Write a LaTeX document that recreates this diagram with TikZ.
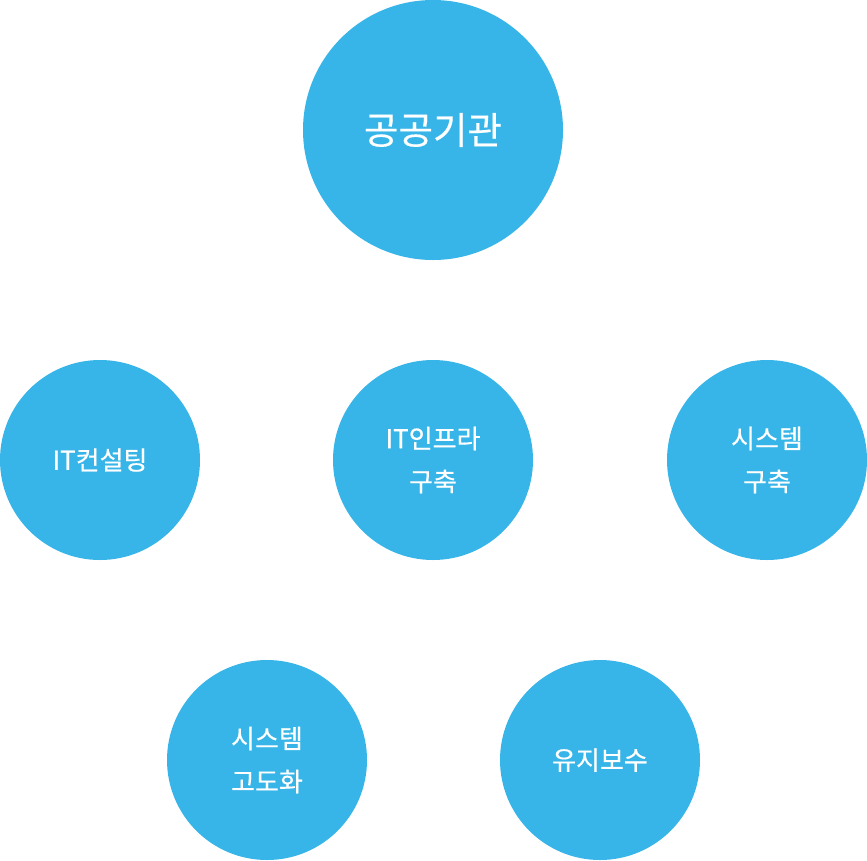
\documentclass[tikz,border=0pt]{standalone}
\usepackage{fontspec}
\setmainfont[FakeBold=0.4]{Noto Sans CJK KR}
\definecolor{sky}{HTML}{38B5E8}
\begin{document}
\begin{tikzpicture}[x=1pt,y=-1pt,
  bigcirc/.style={circle,fill=sky,draw=none,minimum size=260pt,inner sep=0pt,text=white,font=\fontsize{37.5}{42}\selectfont},
  smallcirc/.style={circle,fill=sky,draw=none,minimum size=200pt,inner sep=0pt,text=white,align=center,font=\fontsize{26}{43}\selectfont}]
\useasboundingbox (0,0) rectangle (867,860);
\node[bigcirc] (top) at (433,130) {공공기관};
\node[smallcirc] (c1) at (100,460) {IT컨설팅};
\node[smallcirc] (c2) at (433,460) {IT인프라\\구축};
\node[smallcirc] (c3) at (767,460) {시스템\\구축};
\node[smallcirc] (c4) at (267,760) {시스템\\고도화};
\node[smallcirc] (c5) at (600,760) {유지보수};
\end{tikzpicture}
\end{document}
